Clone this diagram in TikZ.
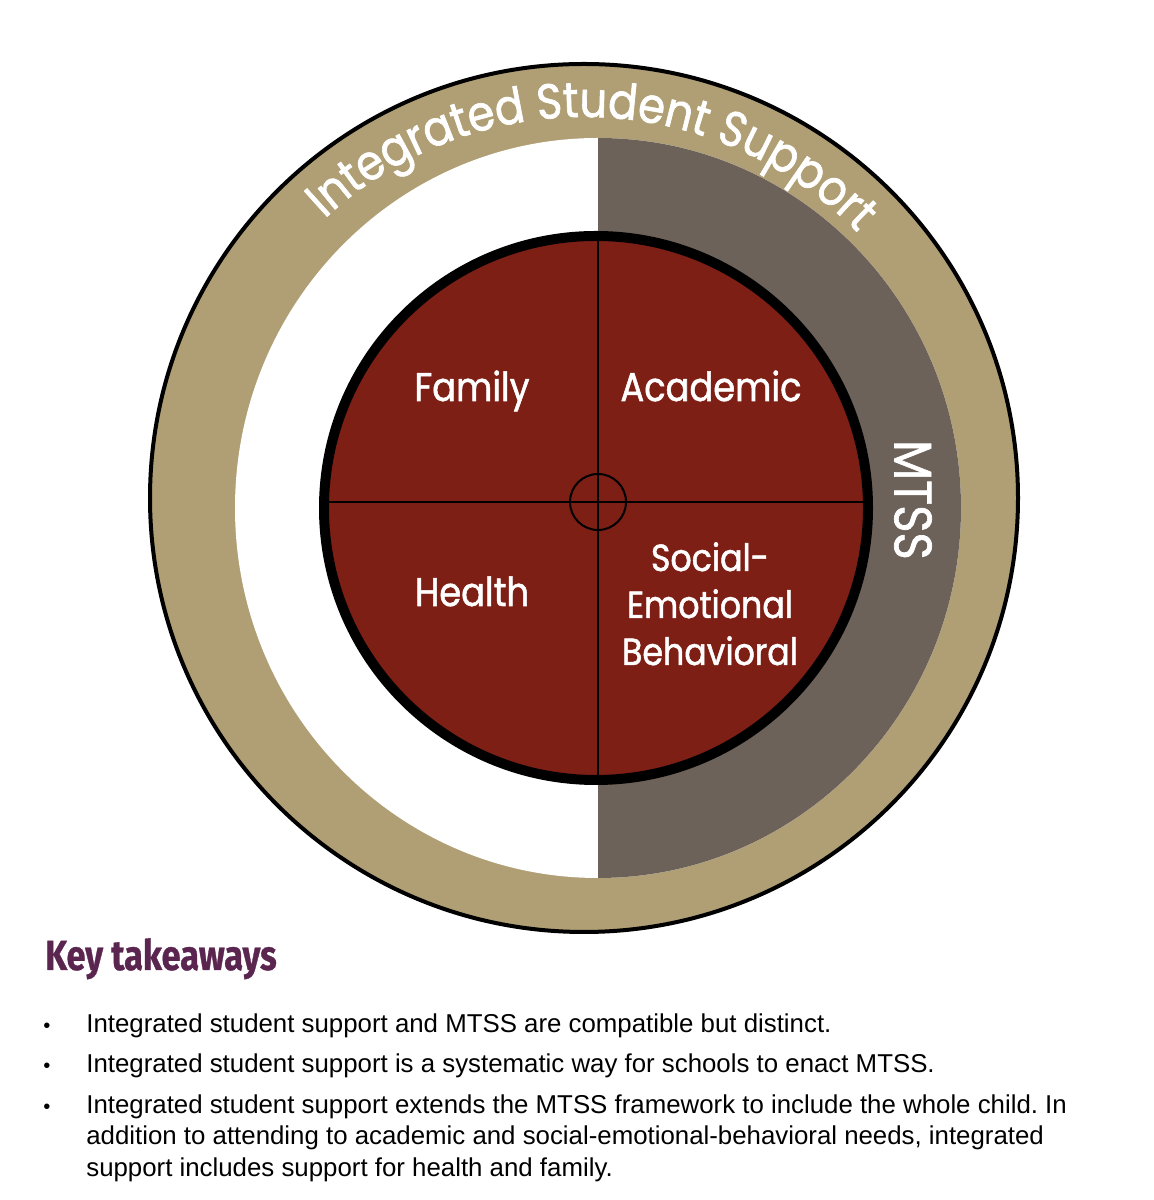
\documentclass[tikz,border=0pt]{standalone}
\usepackage{fontspec}
\setmainfont{Liberation Sans}
\newfontfamily\geofont[FakeStretch=0.88,FakeBold=1.3]{Poppins}
\newfontfamily\headfont[FakeStretch=0.82,FakeBold=0.8]{Fira Sans}
\usetikzlibrary{decorations.text}
\definecolor{tanband}{HTML}{B09F74}
\definecolor{mtssgrey}{HTML}{6D6259}
\definecolor{corered}{HTML}{7E1F16}
\definecolor{plum}{HTML}{5A2650}
\tikzset{
  quad/.style={text=white, inner sep=0pt, anchor=base, font=\geofont\fontsize{22.8pt}{27pt}\selectfont},
  quadsmall/.style={text=white, inner sep=0pt, anchor=base, font=\geofont\fontsize{21.5pt}{26pt}\selectfont},
  bullettext/.style={inner sep=0pt, anchor=base west, font=\frenchspacing\fontsize{14.7pt}{17.7pt}\selectfont},
  bulletdot/.style={inner sep=0pt, anchor=base, font=\fontsize{11.5pt}{12pt}\selectfont},
  hairline/.style={line width=0.04cm, black}
}
\begin{document}
\begin{tikzpicture}[x=0.02cm,y=0.02cm]
\useasboundingbox (0,0) rectangle (1153,1200);
% outer ring
\filldraw[fill=tanband, draw=black, line width=0.08cm] (584,702) circle[radius=434];
% inner disc: white left, grey right
\fill[white] (598,692) ellipse[x radius=363, y radius=370];
\fill[mtssgrey] (598,1062) arc[start angle=90, end angle=-90, x radius=363, y radius=370] -- cycle;
% arc title
\path[decorate, decoration={text along path, text align=center, text color=white,
  text={|\geofont\fontsize{28pt}{30pt}\selectfont|Integrated Student Support}}]
  (584,702) ++(138.5:381) arc[start angle=138.5, end angle=38.5, radius=381];
% core circle
\fill[corered] (596,692) circle[radius=272];
\begin{scope}
  \clip (596,692) circle[radius=272];
  \draw[hairline] (598,400) -- (598,980);
  \draw[hairline] (300,698) -- (900,698);
\end{scope}
\draw[hairline] (598,698) circle[radius=28];
\draw[black, line width=0.2cm] (596,692) circle[radius=272];
% quadrant labels
\node[quad] (family) at (472,799) {Family};
\node[quad] (academic) at (711,799) {Academic};
\node[quad] (health) at (472,594) {Health};
\node[quadsmall] (seb1) at (710,629) {Social-};
\node[quadsmall] (seb2) at (710,582) {Emotional};
\node[quadsmall] (seb3) at (710,535) {Behavioral};
\node[text=white, inner sep=0pt, rotate=-90, font=\geofont\fontsize{30pt}{34pt}\selectfont] (mtss) at (913,700) {MTSS};
% key takeaways
\node[inner sep=0pt, anchor=base west, text=plum, font=\headfont\bfseries\fontsize{23.9pt}{28pt}\selectfont] (keyhead) at (45,230) {Key takeaways};
\node[bulletdot] (d1) at (47,167) {\textbullet};
\node[bulletdot] (d2) at (47,127) {\textbullet};
\node[bulletdot] (d3) at (47,86) {\textbullet};
\node[bullettext] (b1) at (86,167) {Integrated student support and MTSS are compatible but distinct.};
\node[bullettext] (b2) at (86,127) {Integrated student support is a systematic way for schools to enact MTSS.};
\node[bullettext] (b3a) at (86,86) {Integrated student support extends the MTSS framework to include the whole child. In};
\node[bullettext] (b3b) at (86,55) {addition to attending to academic and social-emotional-behavioral needs, integrated};
\node[bullettext] (b3c) at (86,24) {support includes support for health and family.};
\end{tikzpicture}
\end{document}
